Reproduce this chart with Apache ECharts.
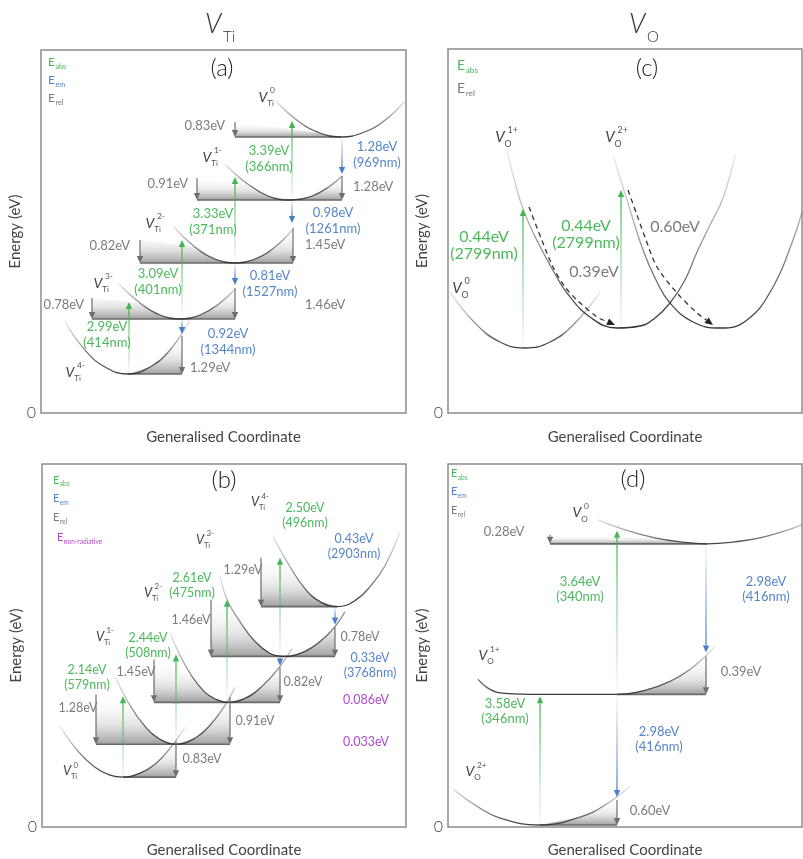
<!DOCTYPE html>
<html><head><meta charset="utf-8">
<script src="https://cdn.jsdelivr.net/npm/echarts@6/dist/echarts.min.js"></script>
<style>html,body{margin:0;padding:0;background:#fff}#chart{width:803px;height:859px}</style>
</head><body><div id="chart"></div>
<script>
// ===== Panel (a): V_Ti, units: x = generalised coordinate, y = energy (arbitrary) =====
const curvesA = [
  [[235,312],[257,292],[279,280],[300,276],[321,280],[343,292],[364,312]],   // V_Ti^0
  [[184,249],[204,231],[227,217],[249,213],[271,217],[289,227],[301,237]],   // V_Ti^1-
  [[132,187],[154,166],[174,154],[194,150],[214,154],[234,166],[252,184]],   // V_Ti^2-
  [[78,129],[99,110],[119,98],[139,94],[159,98],[179,110],[194,124]],        // V_Ti^3-
  [[24,91],[44,63],[64,46],[87,39],[109,46],[129,63],[149,93]]               // V_Ti^4-
];
const relA = [[194,291,276],[156,235,213],[301,237,213],[99,173,150],[252,185,150],[51,115,94],[194,125,94],[141,77,39]];
const absA = [[251,213,292],[194,150,236],[141,94,173],[88,39,111]];
const emA  = [[301,276,239],[251,213,190],[194,150,128],[141,94,79]];
const barsA = [[0,194,300,276,291,null],[1,156,301,213,235,237],[2,99,252,150,173,185],[3,51,194,94,115,125],[4,87,141,39,null,77]];
const valsA = [
  ['0.83eV',184,287,'rel','right'],['3.39eV\n(366nm)',228,254,'abs','center'],['1.28eV\n(969nm)',336,258,'em','center'],
  ['0.91eV',147,229,'rel','right'],['1.28eV',312,226,'rel','left'],['3.33eV\n(371nm)',172,191,'abs','center'],
  ['0.98eV\n(1261nm)',292,192,'em','center'],['0.82eV',89,167,'rel','right'],['1.45eV',264,168,'rel','left'],
  ['3.09eV\n(401nm)',117,131,'abs','center'],['0.81eV\n(1527nm)',229,129,'em','center'],['0.78eV',43,108,'rel','right'],
  ['1.46eV',264,108,'rel','left'],['2.99eV\n(414nm)',66,78,'abs','center'],['0.92eV\n(1344nm)',187,71,'em','center'],
  ['1.29eV',149,45,'rel','left']
];
const statesA = [['Ti','0',222,316],['Ti','1-',166,256],['Ti','2-',109,190],['Ti','3-',57,130],['Ti','4-',29,41]];
const legendA = [['abs',7,351],['em',7,333],['rel',7,315]];

// ===== Panel (b) =====
const curvesB = [
  [[18,101],[36,76],[53,60],[68,52],[81,50],[98,54],[113,63],[128,79],[143,100]],                 // V_Ti^0
  [[73,151],[88,122],[103,101],[118,88],[134,83],[153,89],[168,102],[183,122],[193,140]],         // V_Ti^1-
  [[128,195],[138,172],[150,151],[163,135],[174,128],[185,125],[203,129],[220,141],[238,161],[250,179]], // V_Ti^2-
  [[178,253],[185,228],[198,206],[213,186],[228,174],[240,171],[258,174],[278,186],[293,201],[303,216]], // V_Ti^3-
  [[231,291],[248,261],[263,239],[278,226],[295,221],[313,227],[328,241],[343,262],[358,296]]     // V_Ti^4-
];
const relB = [[219,270,221],[169,228,171],[293,200,171],[112,168,125],[238,160,125],[54,133,83],[188,130,83],[134,86,50]];
const absB = [[238,171,270],[185,125,228],[134,83,173],[81,50,131]];
const emB  = [[293,221,203],[238,171,162]];
const barsB = [[4,219,295,221,270,null],[3,169,293,171,228,200],[2,112,238,125,168,160],[1,54,188,83,133,130],[0,81,134,50,null,86]];
const valsB = [
  ['1.29eV',201,258,'rel','center'],['2.50eV\n(496nm)',263,312,'abs','center'],['0.43eV\n(2903nm)',312,281,'em','center'],
  ['2.61eV\n(475nm)',150,242,'abs','center'],['1.46eV',149,208,'rel','center'],['0.78eV',318,191,'rel','center'],
  ['0.33eV\n(3768nm)',328,162,'em','center'],['2.44eV\n(508nm)',106,182,'abs','center'],['1.45eV',94,155,'rel','center'],
  ['0.82eV',261,145,'rel','center'],['0.086eV',324,127,'nr','center'],['2.14eV\n(579nm)',45,150,'abs','center'],
  ['1.28eV',36,119,'rel','center'],['0.91eV',213,106,'rel','center'],['0.033eV',324,85,'nr','center'],
  ['0.83eV',160,68,'rel','center']
];
const statesB = [['Ti','4-',213,326],['Ti','3-',158,288],['Ti','2-',106,235],['Ti','1-',58,191],['Ti','0',25,56]];
const legendB = [['abs',11,348],['em',11,329],['rel',11,310],['non-radiative',15,290]];

// ===== Panel (c): V_O =====
const curvesC = [
  [[2,121],[27,90],[52,71],[77,65],[102,71],[127,90],[152,121]],  // V_O^0
  [[59,263],[72,213],[83,185],[95,161],[107,139],[119,120],[142,96],[169,85],[192,87],[207,95],[222,110],[237,133],[249,161],[262,188],[275,215],[287,258]], // V_O^1+
  [[165,258],[179,213],[195,163],[208,133],[222,110],[245,91],[272,85],[299,93],[325,126],[345,173],[354,201]] // V_O^2+
];
const dashC = [
  [[81,206],[93,175],[105,146],[117,126],[129,113],[149,96],[167,88]],
  [[180,223],[189,198],[198,173],[209,146],[229,120],[249,100],[265,88]]
];
const absC = [[75,65,204],[173,85,223]];
const valsC = [
  ['0.44eV\n(2799nm)',36,168,'abs','center'],['0.44eV\n(2799nm)',138,179,'abs','center'],
  ['0.60eV',227,186,'rel','center'],['0.39eV',146,141,'rel','center']
];
const statesC = [['O','1+',52,276],['O','2+',162,276],['O','0',9,125]];
const legendC = [['abs',9,348],['rel',9,325]];

// ===== Panel (d) =====
const curvesD = [
  [[150,308],[177,298],[207,290],[232,286],[259,284],[287,286],[312,290],[337,297],[354,303]], // V_O^0
  [[30,148],[42,138],[57,134],[92,133],[132,133],[169,133],[197,137],[222,146],[242,158],[257,171],[267,181]], // V_O^1+
  [[5,38],[27,22],[52,9],[92,2],[132,10],[157,22],[182,41]] // V_O^2+
];
const relD = [[102,293,284],[258,171,133],[169,27,2]];
const absD = [[169,133,297],[92,2,131]];
const emD  = [[258,284,175],[169,133,30]];
const barsD = [[0,102,259,284,293,null],[1,169,258,133,null,171],[2,92,169,2,null,28]];
const valsD = [
  ['0.28eV',56,296,'rel','center'],['3.64eV\n(340nm)',132,238,'abs','center'],['2.98eV\n(416nm)',318,238,'em','center'],
  ['0.39eV',293,156,'rel','center'],['3.58eV\n(346nm)',57,116,'abs','center'],['2.98eV\n(416nm)',211,88,'em','center'],
  ['0.60eV',202,16,'rel','center']
];
const statesD = [['O','0',129,315],['O','1+',35,172],['O','2+',22,56]];
const legendD = [['abs',3,355],['em',3,336],['rel',3,317]];

// ===== styling / layout =====
const FONT = 'Lato, "Open Sans", sans-serif';
const FW = 300;
const COL = {abs:'#45b553', em:'#4a7ec6', rel:'#6e6e6e', nr:'#b24fcb'};
const TXT = {abs:'#4cb85c', em:'#5686c9', rel:'#7c7c7c', nr:'#b04ccb'};
function rgba(hex,a){const n=parseInt(hex.slice(1),16);return `rgba(${n>>16&255},${n>>8&255},${n&255},${a})`;}

const PANELS = [
  {grid:{left:41,top:50,width:365,height:363}, curves:curvesA, rel:relA, abs:absA, em:emA, bars:barsA, vals:valsA, states:statesA, legend:legendA, fs:13, lh:16, vs:14, es:12, gap:17},
  {grid:{left:42,top:464,width:364,height:364}, curves:curvesB, rel:relB, abs:absB, em:emB, bars:barsB, vals:valsB, states:statesB, legend:legendB, fs:12.5, lh:15, vs:13, es:11, gap:16},
  {grid:{left:448,top:49,width:354,height:364}, curves:curvesC, rel:[], abs:absC, em:[], bars:[], vals:valsC, states:statesC, legend:legendC, dash:dashC, fs:16, lh:17, vs:15, es:14, gap:17},
  {grid:{left:448,top:464,width:354,height:364}, curves:curvesD, rel:relD, abs:absD, em:emD, bars:barsD, vals:valsD, states:statesD, legend:legendD, fs:13, lh:15, vs:14, es:11, gap:16}
];

const grids=[], xAxes=[], yAxes=[], series=[];
PANELS.forEach((P,i)=>{
  const g=P.grid;
  grids.push(Object.assign({show:true,borderColor:'#8c8c8c',borderWidth:1.5,backgroundColor:'rgba(0,0,0,0)'},g));
  xAxes.push({gridIndex:i,type:'value',min:0,max:g.width,axisLine:{show:false},axisTick:{show:false},axisLabel:{show:false},splitLine:{show:false},
    name:'Generalised Coordinate',nameLocation:'middle',nameGap:P.gap,nameTextStyle:{fontFamily:FONT,fontSize:15,color:'#444'}});
  yAxes.push({gridIndex:i,type:'value',min:0,max:g.height,interval:g.height,axisLine:{show:false},axisTick:{show:false},splitLine:{show:false},
    axisLabel:{formatter:v=>v===0?'0':'',fontFamily:FONT,fontSize:16,fontWeight:FW,color:'#444',margin:5},
    name:'Energy (eV)',nameLocation:'middle',nameGap:13,nameRotate:90,nameTextStyle:{fontFamily:FONT,fontSize:15,color:'#444'}});
  const ax={xAxisIndex:i,yAxisIndex:i,silent:true,animation:false};
  // shading + bars
  if(P.bars.length) series.push(Object.assign({type:'custom',z:2,data:P.bars.map((b,k)=>[b[1],b[3],k]),encode:{x:0,y:1},
    renderItem:(params,api)=>{
      const [ci,xL,xR,E,tL,tR]=P.bars[params.dataIndex]; const cv=P.curves[ci];
      const xmin=cv.reduce((m,p)=>p[1]<m[1]?p:m)[0];
      const pts=[[xL,tL!=null?tL:E]];
      cv.forEach(p=>{ if(p[0]>xL&&p[0]<xR&&(p[0]>=xmin||tL==null||p[1]<=tL)) pts.push(p); });
      if(tR!=null) pts.push([xR,tR]);
      pts.push([xR,E]); pts.push([xL,E]);
      const px=pts.map(p=>api.coord(p));
      const top=Math.min(...px.map(p=>p[1])); const l=api.coord([xL,E]), r=api.coord([xR,E]);
      const fill=new echarts.graphic.LinearGradient(0,top,0,l[1],[{offset:0,color:'rgba(255,255,255,0)'},{offset:0.6,color:'rgba(150,150,150,0.25)'},{offset:1,color:'rgba(110,110,110,0.65)'}],true);
      return {type:'group',children:[
        {type:'polygon',shape:{points:px},style:{fill}},
        {type:'line',shape:{x1:l[0],y1:l[1],x2:r[0],y2:r[1]},style:{stroke:'#6a6a6a',lineWidth:1.7}}]};
    }},ax));
  // curves
  P.curves.forEach(c=>series.push(Object.assign({type:'line',z:3,data:c,smooth:0.45,symbol:'none',showSymbol:false,
    lineStyle:{width:1.3,color:new echarts.graphic.LinearGradient(0,0,0,1,[{offset:0,color:'rgba(130,130,130,0.15)'},{offset:0.55,color:'rgba(90,90,90,0.7)'},{offset:1,color:'rgba(50,50,50,1)'}])}},ax)));
  // arrows
  [['rel',P.rel],['abs',P.abs],['em',P.em]].forEach(([kind,arr])=>{
    if(!arr.length) return;
    series.push(Object.assign({type:'custom',z:4,data:arr,encode:{x:0,y:[1,2]},
      renderItem:(params,api)=>{
        const x=api.value(0),a=api.value(1),b=api.value(2);
        const p0=api.coord([x,a]),p1=api.coord([x,b]);
        const dir=p1[1]>p0[1]?1:-1, hl=7, hw=3.2, by=p1[1]-dir*hl;
        const c=COL[kind], fa=kind==='rel'?0.95:0.06;
        const stroke=new echarts.graphic.LinearGradient(p0[0],p0[1],p0[0],by,[{offset:0,color:rgba(c,fa)},{offset:1,color:rgba(c,1)}],true);
        return {type:'group',children:[
          {type:'line',shape:{x1:p0[0],y1:p0[1],x2:p1[0],y2:by},style:{stroke,lineWidth:1.25}},
          {type:'polygon',shape:{points:[[p1[0],p1[1]],[p1[0]-hw,by],[p1[0]+hw,by]]},style:{fill:c}}]};
      }},ax));
  });
  // dashed relaxation paths
  if(P.dash) series.push(Object.assign({type:'custom',z:4,data:P.dash.map((d,k)=>[d[0][0],d[0][1],k]),encode:{x:0,y:1},
    renderItem:(params,api)=>{
      const pts=P.dash[params.dataIndex].map(p=>api.coord(p));
      const n=pts.length, e=pts[n-1], q=pts[n-2];
      const dx=e[0]-q[0], dy=e[1]-q[1], L=Math.hypot(dx,dy), ux=dx/L, uy=dy/L, hl=8, hw=3.5;
      const bx=e[0]-ux*hl, by=e[1]-uy*hl;
      const line=pts.slice(0,n-1).concat([[bx,by]]);
      return {type:'group',children:[
        {type:'polyline',shape:{points:line,smooth:0.3},style:{stroke:'#333',lineWidth:1.3,lineDash:[5,4],fill:null}},
        {type:'polygon',shape:{points:[e,[bx-uy*hw,by+ux*hw],[bx+uy*hw,by-ux*hw]]},style:{fill:'#222'}}]};
    }},ax));
  // value labels
  series.push(Object.assign({type:'custom',z:5,data:P.vals.map((v,k)=>[v[1],v[2],k]),encode:{x:0,y:1},
    renderItem:(params,api)=>{
      const v=P.vals[params.dataIndex]; const p=api.coord([v[1],v[2]]);
      return {type:'text',x:p[0],y:p[1],style:{text:v[0],fill:TXT[v[3]],fontFamily:FONT,fontSize:P.fs,align:v[4],verticalAlign:'middle',lineHeight:P.lh}};
    }},ax));
  // state labels V_X^q
  series.push(Object.assign({type:'custom',z:5,data:P.states.map((s,k)=>[s[2],s[3],k]),encode:{x:0,y:1},
    renderItem:(params,api)=>{
      const s=P.states[params.dataIndex]; const p=api.coord([s[2],s[3]]); const vs=P.vs;
      return {type:'group',children:[
        {type:'text',x:p[0],y:p[1],style:{text:'V',fontStyle:'italic',fontFamily:FONT,fontSize:vs,fill:'#444',align:'center',verticalAlign:'middle'}},
        {type:'text',x:p[0]+vs*0.3,y:p[1]+vs*0.45,style:{text:s[0],fontFamily:FONT,fontSize:vs*0.58,fill:'#555',align:'left',verticalAlign:'middle'}},
        {type:'text',x:p[0]+vs*0.5,y:p[1]-vs*0.45,style:{text:s[1],fontFamily:FONT,fontSize:vs*0.6,fill:'#555',align:'left',verticalAlign:'middle'}}]};
    }},ax));
  // legend E_abs etc.
  series.push(Object.assign({type:'custom',z:5,data:P.legend.map((s,k)=>[s[1],s[2],k]),encode:{x:0,y:1},
    renderItem:(params,api)=>{
      const s=P.legend[params.dataIndex]; const p=api.coord([s[1],s[2]]); const es=P.es;
      const kind={abs:'abs',em:'em',rel:'rel'}[s[0]]||'nr';
      return {type:'group',children:[
        {type:'text',x:p[0],y:p[1],style:{text:'E',fontFamily:FONT,fontSize:es,fill:TXT[kind],align:'left',verticalAlign:'middle'}},
        {type:'text',x:p[0]+es*0.62,y:p[1]+es*0.4,style:{text:s[0],fontFamily:FONT,fontSize:es*0.6,fill:TXT[kind],align:'left',verticalAlign:'middle'}}]};
    }},ax));
});

const graphic = [
  {type:'text',left:205,top:11,style:{text:'V',fontStyle:'italic',fontFamily:FONT,fontWeight:FW,fontSize:27,fill:'#333'}},
  {type:'text',left:223,top:30,style:{text:'Ti',fontFamily:FONT,fontWeight:FW,fontSize:15,fill:'#333'}},
  {type:'text',left:629,top:11,style:{text:'V',fontStyle:'italic',fontFamily:FONT,fontWeight:FW,fontSize:27,fill:'#333'}},
  {type:'text',left:647,top:30,style:{text:'O',fontFamily:FONT,fontWeight:FW,fontSize:15,fill:'#333'}},
  {type:'text',x:222,y:68,style:{text:'(a)',fontFamily:FONT,fontWeight:FW,fontSize:24,fill:'#222',align:'center',verticalAlign:'middle'}},
  {type:'text',x:224,y:480,style:{text:'(b)',fontFamily:FONT,fontWeight:FW,fontSize:24,fill:'#222',align:'center',verticalAlign:'middle'}},
  {type:'text',x:647,y:68,style:{text:'(c)',fontFamily:FONT,fontWeight:FW,fontSize:24,fill:'#222',align:'center',verticalAlign:'middle'}},
  {type:'text',x:633,y:479,style:{text:'(d)',fontFamily:FONT,fontWeight:FW,fontSize:24,fill:'#222',align:'center',verticalAlign:'middle'}}
];

const chart = echarts.init(document.getElementById('chart'), null, {renderer:'canvas'});
chart.setOption({animation:false, backgroundColor:'#fff', grid:grids, xAxis:xAxes, yAxis:yAxes, series, graphic});
</script></body></html>
